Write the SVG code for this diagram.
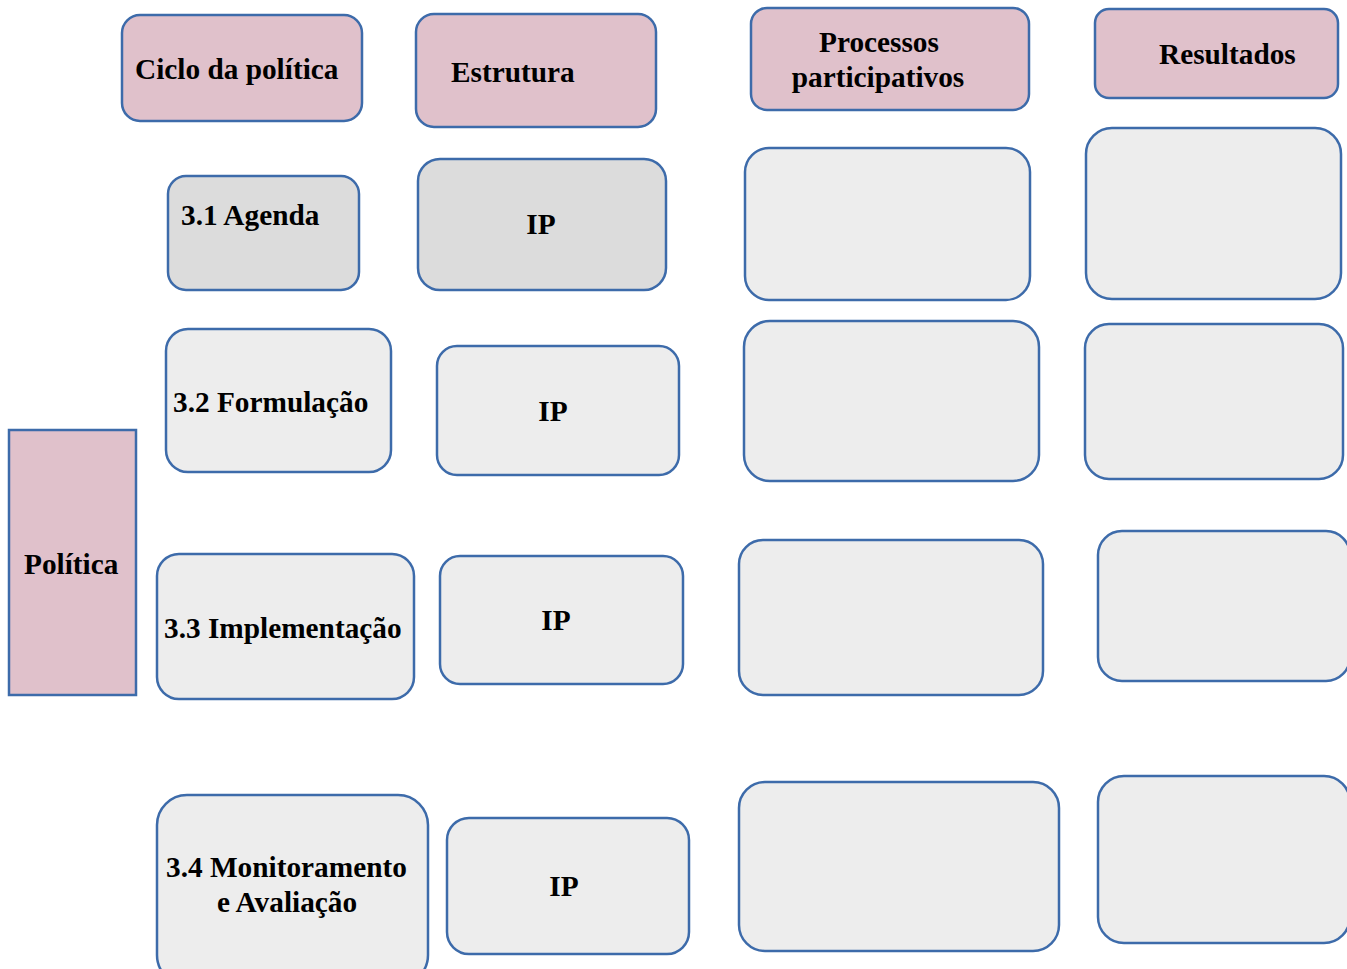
<svg xmlns="http://www.w3.org/2000/svg" width="1347" height="969" viewBox="0 0 1347 969">
  <style>
    .box { stroke: #3D6BAA; stroke-width: 2.5; }
    .head { fill: #E0C1CB; }
    .dark { fill: #DCDCDC; }
    .light { fill: #EDEDED; }
    text { font-family: "Liberation Serif", "Times New Roman", serif; font-weight: bold; font-size: 29.3px; fill: #000; }
    .mid { text-anchor: middle; }
  </style>
  <rect width="1347" height="969" fill="#FFFFFF"/>

  <!-- column headers -->
  <g id="hdr-ciclo"><rect class="box head" x="122" y="15" width="240" height="106" rx="18"/><text x="135" y="79">Ciclo da política</text></g>
  <g id="hdr-estrutura"><rect class="box head" x="416" y="14" width="240" height="113" rx="18"/><text x="451" y="82">Estrutura</text></g>
  <g id="hdr-processos"><rect class="box head" x="751" y="8" width="278" height="102" rx="16"/><text class="mid" x="879" y="52">Processos</text><text class="mid" x="878" y="87">participativos</text></g>
  <g id="hdr-resultados"><rect class="box head" x="1095" y="9" width="243" height="89" rx="14"/><text x="1159" y="64">Resultados</text></g>

  <!-- row label -->
  <g id="politica"><rect class="box head" x="9" y="430" width="127" height="265"/><text x="24" y="574">Política</text></g>

  <!-- row 3.1 -->
  <g id="agenda"><rect class="box dark" x="168" y="176" width="191" height="114" rx="18"/><text x="181" y="225">3.1 Agenda</text></g>
  <g id="ip-1"><rect class="box dark" x="418" y="159" width="248" height="131" rx="22"/><text class="mid" x="541" y="234">IP</text></g>
  <g id="proc-1"><rect class="box light" x="745" y="148" width="285" height="152" rx="24"/></g>
  <g id="res-1"><rect class="box light" x="1086" y="128" width="255" height="171" rx="26"/></g>

  <!-- row 3.2 -->
  <g id="formulacao"><rect class="box light" x="166" y="329" width="225" height="143" rx="22"/><text x="173" y="412">3.2 Formulação</text></g>
  <g id="ip-2"><rect class="box light" x="437" y="346" width="242" height="129" rx="20"/><text class="mid" x="553" y="421">IP</text></g>
  <g id="proc-2"><rect class="box light" x="744" y="321" width="295" height="160" rx="26"/></g>
  <g id="res-2"><rect class="box light" x="1085" y="324" width="258" height="155" rx="24"/></g>

  <!-- row 3.3 -->
  <g id="implementacao"><rect class="box light" x="157" y="554" width="257" height="145" rx="22"/><text x="164" y="638">3.3 Implementação</text></g>
  <g id="ip-3"><rect class="box light" x="440" y="556" width="243" height="128" rx="20"/><text class="mid" x="556" y="630">IP</text></g>
  <g id="proc-3"><rect class="box light" x="739" y="540" width="304" height="155" rx="24"/></g>
  <g id="res-3"><rect class="box light" x="1098" y="531" width="252" height="150" rx="24"/></g>

  <!-- row 3.4 -->
  <g id="monitoramento"><rect class="box light" x="157" y="795" width="271" height="190" rx="30"/><text x="166" y="877">3.4 Monitoramento</text><text class="mid" x="287" y="912">e Avaliação</text></g>
  <g id="ip-4"><rect class="box light" x="447" y="818" width="242" height="136" rx="22"/><text class="mid" x="564" y="896">IP</text></g>
  <g id="proc-4"><rect class="box light" x="739" y="782" width="320" height="169" rx="26"/></g>
  <g id="res-4"><rect class="box light" x="1098" y="776" width="252" height="167" rx="26"/></g>

  <g id="connectors"></g>
</svg>
